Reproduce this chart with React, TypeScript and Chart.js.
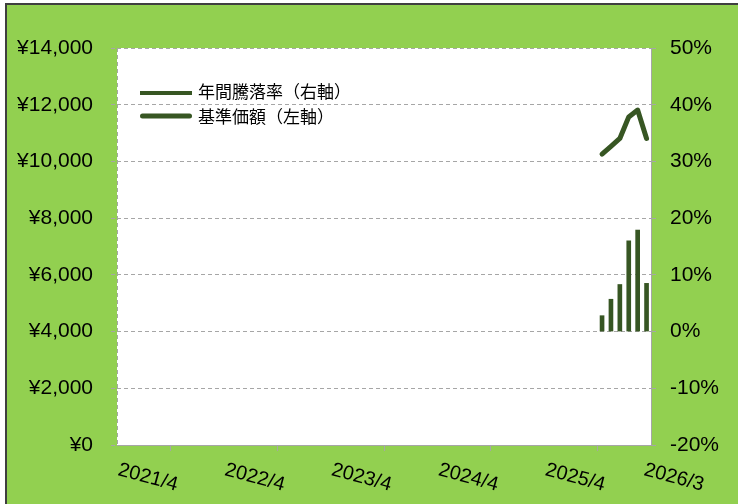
import React, { useEffect, useRef } from "react";
import { Chart, registerables } from "chart.js";

Chart.register(...registerables);

// ---- data ----
const xTickLabels = ["2021/4", "2022/4", "2023/4", "2024/4", "2025/4", "2026/3"];
const months = ["2025/10", "2025/11", "2025/12", "2026/1", "2026/2", "2026/3"];
const annualReturn = [2.8, 5.7, 8.3, 16.0, 17.9, 8.5]; // % (right axis)
const nav = [10260, 10530, 10810, 11570, 11810, 10810]; // ¥ (left axis)
const seriesNames = ["年間騰落率（右軸）", "基準価額（左軸）"];

const START_YEAR = 2021;
const START_MONTH = 4;
const monthPos = (s: string) => {
  const [y, m] = s.split("/").map(Number);
  return (y - START_YEAR) * 12 + (m - START_MONTH) + 0.5;
};

const DARK = "#375623";
const GREEN = "#92D050";
const GRID = "#a6a6a6";
const FONT = '"Liberation Sans", Arial, sans-serif';
const CJK = '"Noto Sans CJK JP", "Noto Sans", sans-serif';

const decorPlugin = {
  id: "decor",
  beforeDraw(chart: any) {
    const { ctx, width, height, chartArea } = chart;
    ctx.save();
    ctx.fillStyle = "#ffffff";
    ctx.fillRect(0, 0, width, height);
    ctx.fillStyle = "#3f3f3f";
    ctx.fillRect(5, 3, width, height);
    ctx.fillStyle = GREEN;
    ctx.fillRect(7, 5, width, height);
    ctx.fillStyle = "#ffffff";
    ctx.fillRect(chartArea.left, chartArea.top, chartArea.right - chartArea.left, chartArea.bottom - chartArea.top);
    ctx.restore();
  },
  beforeDatasetsDraw(chart: any) {
    const { ctx, chartArea } = chart;
    ctx.save();
    ctx.strokeStyle = GRID;
    ctx.lineWidth = 1;
    ctx.setLineDash([4, 3]);
    ctx.beginPath();
    ctx.moveTo(Math.round(chartArea.left) + 0.5, chartArea.top);
    ctx.lineTo(Math.round(chartArea.left) + 0.5, chartArea.bottom);
    ctx.stroke();
    ctx.restore();
  },
  afterDraw(chart: any) {
    const { ctx } = chart;
    const xs = chart.scales.x;
    const a = (15 * Math.PI) / 180;
    ctx.save();
    ctx.font = "20px " + FONT;
    ctx.fillStyle = "#000";
    ctx.textAlign = "left";
    ctx.textBaseline = "top";
    const maxRight = chart.width - 28;
    xTickLabels.forEach((lab, i) => {
      const w = ctx.measureText(lab).width;
      const ext = w * Math.cos(a) + 15 * Math.sin(a);
      let x = xs.getPixelForValue(i * 12) + 4;
      if (x + ext > maxRight) x = maxRight - ext;
      ctx.save();
      ctx.translate(x, xs.top + 15);
      ctx.rotate(a);
      ctx.fillText(lab, 0, 0);
      ctx.restore();
    });

    // legend
    const lx = 140;
    const tx = 198;
    const rows = [93, 116];
    ctx.fillStyle = DARK;
    ctx.fillRect(lx, rows[0] - 2, 52, 4);
    ctx.strokeStyle = DARK;
    ctx.lineWidth = 5;
    ctx.lineCap = "round";
    ctx.beginPath();
    ctx.moveTo(lx + 2.5, rows[1]);
    ctx.lineTo(lx + 49.5, rows[1]);
    ctx.stroke();
    ctx.font = "17px " + CJK;
    ctx.fillStyle = "#000";
    ctx.textBaseline = "middle";
    ctx.fillText(chart.data.datasets[0].label, tx, rows[0] - 1);
    ctx.fillText(chart.data.datasets[1].label, tx, rows[1] + 1);
    ctx.restore();
  },
};

export default function App() {
  const ref = useRef<HTMLCanvasElement | null>(null);

  useEffect(() => {
    if (!ref.current) return;
    Chart.defaults.font.family = FONT;
    Chart.defaults.font.size = 21;
    Chart.defaults.color = "#000";
    const chart = new Chart(ref.current, {
      type: "bar",
      data: {
        datasets: [
          {
            type: "bar",
            label: seriesNames[0],
            yAxisID: "y1",
            data: months.map((m, i) => ({ x: monthPos(m), y: annualReturn[i] })),
            backgroundColor: DARK,
            borderWidth: 0,
            barThickness: 4,
            order: 2,
          } as any,
          {
            type: "line",
            label: seriesNames[1],
            yAxisID: "y",
            data: months.map((m, i) => ({ x: monthPos(m), y: nav[i] })),
            borderColor: DARK,
            backgroundColor: DARK,
            borderWidth: 5,
            pointRadius: 0,
            borderCapStyle: "round",
            borderJoinStyle: "round",
            tension: 0,
            order: 1,
          } as any,
        ],
      },
      options: {
        responsive: false,
        animation: false,
        layout: { padding: { top: 48, left: 0, right: 0, bottom: 0 } },
        plugins: { legend: { display: false }, tooltip: { enabled: false } },
        scales: {
          x: {
            type: "linear",
            min: 0,
            max: 60,
            offset: false,
            ticks: { display: false },
            afterBuildTicks(s: any) {
              s.ticks = xTickLabels.map((_, i) => ({ value: i * 12 }));
            },
            grid: { drawOnChartArea: false, drawTicks: true, tickLength: 6, color: GRID },
            border: { color: GRID },
            afterFit(s: any) {
              s.height = 59;
            },
          } as any,
          y: {
            position: "left",
            min: 0,
            max: 14000,
            ticks: {
              stepSize: 2000,
              padding: 18,
              callback: (v: any) => "¥" + Number(v).toLocaleString("en-US"),
            },
            grid: { color: GRID, tickLength: 6, tickBorderDash: [4, 3] },
            border: { display: false, dash: [4, 3] },
            afterFit(s: any) {
              s.width = 117;
            },
          } as any,
          y1: {
            position: "right",
            min: -20,
            max: 50,
            ticks: { stepSize: 10, padding: 13, callback: (v: any) => v + "%" },
            grid: { drawOnChartArea: false, drawTicks: true, tickLength: 6, color: GRID, tickBorderDash: [4, 3] },
            border: { color: GRID },
            afterFit(s: any) {
              s.width = 87;
            },
          } as any,
        },
      },
      plugins: [decorPlugin],
    });
    return () => chart.destroy();
  }, []);

  return (
    <div style={{ position: "fixed", left: 0, top: 0, width: 738, height: 504 }}>
      <canvas ref={ref} width={738} height={504} style={{ display: "block" }} />
    </div>
  );
}
